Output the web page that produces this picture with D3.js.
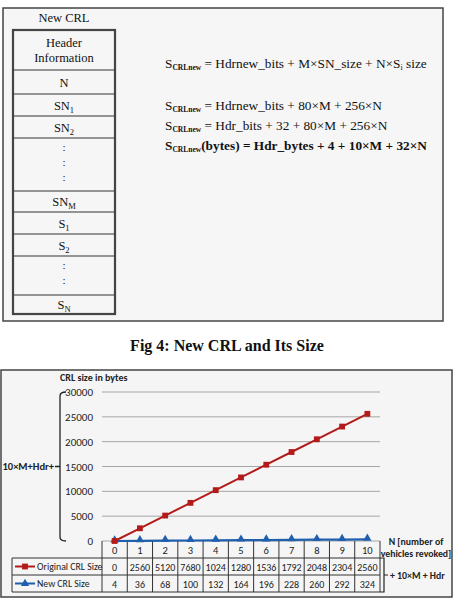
<!DOCTYPE html>
<html>
  <head>
    <meta charset="utf-8">
    <title>New CRL and Its Size</title>
    <script src="https://cdn.jsdelivr.net/npm/d3@7"></script>
    <style>
      body { margin: 0; background: #fff; }
      .serif { font-family: "Liberation Serif", "Times New Roman", serif; fill: #111; }
      .sans { font-family: Carlito, "DejaVu Sans Condensed", "Liberation Sans Narrow", "Liberation Sans", sans-serif; fill: #222; }
      .grid line { stroke: #a6a6a6; stroke-width: 1; }
    </style>
  </head>
  <body>
    <svg id="fig" width="455" height="603"></svg>
    <script>
      // ---- data ----
      const nValues = [0, 1, 2, 3, 4, 5, 6, 7, 8, 9, 10]
      const originalSize = [0, 2560, 5120, 7680, 10240, 12800, 15360, 17920, 20480, 23040, 25600]
      const newSize = [4, 36, 68, 100, 132, 164, 196, 228, 260, 292, 324]
      const yTicks = [0, 5000, 10000, 15000, 20000, 25000, 30000]
      const seriesNames = ["Original CRL Size", "New CRL Size"]

      // fields of the new CRL (label, subscript)
      const crlFields = [
        ["Header|Information", ""], ["N", ""], ["SN", "1"], ["SN", "2"], [":", ""],
        ["SN", "M"], ["S", "1"], ["S", "2"], [":", ""], ["S", "N"]
      ]
      const crlRowHeights = [40, 24, 22, 22, 53, 21, 22, 22, 39, 19]

      const svg = d3.select("#fig")

      // ---------- top panel : New CRL layout ----------
      svg.append("rect").attr("x", 3).attr("y", 8).attr("width", 440).attr("height", 313)
         .attr("fill", "#f6f6f6").attr("stroke", "#444").attr("stroke-width", 1.5)

      svg.append("text").attr("class", "serif").attr("x", 64).attr("y", 22)
         .attr("text-anchor", "middle").attr("font-size", 12.5).text("New CRL")

      const tbl = svg.append("g").attr("transform", "translate(13,30)")
      let yy = 0
      crlFields.forEach(function(f, i){
        const h = crlRowHeights[i]
        tbl.append("line").attr("x1", 0).attr("x2", 102).attr("y1", yy).attr("y2", yy)
           .attr("stroke", "#333").attr("stroke-width", 1)
        if(f[0] == ":"){
          const n = h > 45 ? 3 : 2
          for(let k = 0; k < n; k++){
            tbl.append("text").attr("class", "serif").attr("x", 51)
               .attr("y", yy + 13 + k * 15).attr("text-anchor", "middle")
               .attr("font-size", 11).attr("fill", "#555").text(":")
          }
        } else if(f[0].indexOf("|") >= 0){
          f[0].split("|").forEach(function(s, k){
            tbl.append("text").attr("class", "serif").attr("x", 51)
               .attr("y", yy + 17 + k * 15).attr("text-anchor", "middle")
               .attr("font-size", 12.5).text(s)
          })
        } else {
          const t = tbl.append("text").attr("class", "serif").attr("x", 51)
                       .attr("y", yy + h / 2 + 4.5).attr("text-anchor", "middle")
                       .attr("font-size", 12.5).text(f[0])
          if(f[1]) t.append("tspan").attr("font-size", 8.5).attr("dy", 3).text(f[1])
        }
        yy += h
      })
      tbl.append("rect").attr("x", 0).attr("y", 0).attr("width", 102).attr("height", yy)
         .attr("fill", "none").attr("stroke", "#444").attr("stroke-width", 2.2)

      // formulas
      const formulas = [
        [68, " = Hdrnew_bits + M×SN_size + N×S", "i", " size", false],
        [110, " = Hdrnew_bits + 80×M + 256×N", "", "", false],
        [130, " = Hdr_bits + 32 + 80×M + 256×N", "", "", false],
        [150, "(bytes)  = Hdr_bytes  + 4 + 10×M + 32×N", "", "", true]
      ]
      formulas.forEach(function(f){
        const t = svg.append("text").attr("class", "serif").attr("x", 165).attr("y", f[0])
                     .attr("font-size", 13.3).attr("font-weight", f[4] ? "bold" : "normal")
        t.append("tspan").text("S")
        t.append("tspan").attr("font-size", 7.5).attr("font-weight", "bold").attr("dy", 1.5).text("CRLnew")
        t.append("tspan").attr("dy", -1.5).text(f[1])
        if(f[2]){
          t.append("tspan").attr("font-size", 8).attr("dy", 2).text(f[2])
          t.append("tspan").attr("dy", -2).text(f[3])
        }
      })

      // caption
      svg.append("text").attr("class", "serif").attr("x", 227).attr("y", 351)
         .attr("text-anchor", "middle").attr("font-size", 16).attr("font-weight", "bold")
         .text("Fig 4: New CRL and Its Size")

      // ---------- chart ----------
      svg.append("rect").attr("x", 1).attr("y", 370).attr("width", 451).attr("height", 227)
         .attr("fill", "#f5f5f5").attr("stroke", "#444").attr("stroke-width", 1.5)

      const plot = {left: 102, right: 380, top: 392, bottom: 541}

      const x = d3.scaleBand().domain(nValues).range([plot.left, plot.right])
      const y = d3.scaleLinear().domain([0, 30000]).range([plot.bottom, plot.top])

      // gridlines
      svg.append("g").attr("class", "grid").selectAll("line")
         .data(yTicks).join("line")
         .attr("x1", plot.left).attr("x2", plot.right)
         .attr("y1", d => y(d)).attr("y2", d => y(d))

      // y axis labels
      const yAxis = d3.axisLeft(y).tickValues(yTicks).tickFormat(d3.format("d")).tickSize(0).tickPadding(9)
      const gy = svg.append("g").attr("transform", "translate(" + plot.left + ",0)").call(yAxis)
      gy.select(".domain").remove()
      gy.selectAll("text").attr("class", "sans").attr("font-size", 11).attr("fill", "#444")

      svg.append("text").attr("class", "sans").attr("x", 60).attr("y", 381)
         .attr("font-size", 10).attr("font-weight", "bold").text("CRL size in bytes")

      // left bracket
      svg.append("path").attr("fill", "none").attr("stroke", "#222").attr("stroke-width", 1.3)
         .attr("d", "M66," + y(30000) + " Q60," + y(30000) + " 60," + (y(30000) + 4)
                  + " L60," + (y(0) - 4) + " Q60," + y(0) + " 66," + y(0)
                  + " M60," + y(15000) + " L55," + y(15000))
      svg.append("text").attr("class", "sans").attr("x", 54).attr("y", y(15000) + 3.5)
         .attr("text-anchor", "end").attr("font-size", 10.5).attr("font-weight", "bold").text("10×M+Hdr+")

      // data table under the plot
      const rowH = 17
      const tableG = svg.append("g")
      const bounds = nValues.map(d => x(d)).concat([plot.right])
      tableG.selectAll("line.v").data(bounds).join("line").attr("class", "v")
            .attr("x1", d => d).attr("x2", d => d)
            .attr("y1", plot.bottom).attr("y2", plot.bottom + 3 * rowH)
            .attr("stroke", "#333").attr("stroke-width", 1)
      ;[1, 2, 3].forEach(function(r){
        tableG.append("line").attr("x1", 12).attr("x2", plot.right)
              .attr("y1", plot.bottom + r * rowH).attr("y2", plot.bottom + r * rowH)
              .attr("stroke", "#333").attr("stroke-width", 1)
      })
      tableG.append("line").attr("x1", 12).attr("x2", 12)
            .attr("y1", plot.bottom + rowH).attr("y2", plot.bottom + 3 * rowH)
            .attr("stroke", "#333")

      // category row
      tableG.selectAll("text.cat").data(nValues).join("text").attr("class", "sans cat")
            .attr("x", d => x(d) + x.bandwidth() / 2).attr("y", plot.bottom + 12.5)
            .attr("text-anchor", "middle").attr("font-size", 10.5).attr("fill", "#444").text(d => d)

      // value rows (cell text is clipped to four characters as in the original)
      ;[originalSize, newSize].forEach(function(vals, r){
        tableG.selectAll("text.r" + r).data(vals).join("text").attr("class", "sans r" + r)
              .attr("x", (d, i) => x(nValues[i]) + x.bandwidth() / 2)
              .attr("y", plot.bottom + (r + 1) * rowH + 12.5)
              .attr("text-anchor", "middle").attr("font-size", 10).attr("fill", "#444")
              .text(d => String(d).slice(0, 4))
      })

      const colors = ["#b31b1b", "#1f5fad"]
      const square = d3.symbol().type(d3.symbolSquare).size(34)
      const tri = d3.symbol().type(d3.symbolTriangle).size(30)

      // legend keys
      seriesNames.forEach(function(name, r){
        const cy = plot.bottom + (r + 1) * rowH + rowH / 2
        tableG.append("line").attr("x1", 15).attr("x2", 35).attr("y1", cy).attr("y2", cy)
              .attr("stroke", colors[r]).attr("stroke-width", 2)
        tableG.append("path").attr("d", r == 0 ? square() : tri())
              .attr("transform", "translate(25," + cy + ")").attr("fill", colors[r])
        tableG.append("text").attr("class", "sans").attr("x", 37).attr("y", cy + 3.5)
              .attr("font-size", 9.8).attr("fill", "#333").text(name)
      })

      // series lines
      const line = d3.line().x((d, i) => x(nValues[i]) + x.bandwidth() / 2).y(d => y(d))
      svg.append("path").datum(newSize).attr("d", line).attr("fill", "none")
         .attr("stroke", colors[1]).attr("stroke-width", 2.2)
      svg.append("path").datum(originalSize).attr("d", line).attr("fill", "none")
         .attr("stroke", colors[0]).attr("stroke-width", 2)
      svg.selectAll("path.tri").data(newSize).join("path").attr("class", "tri")
         .attr("d", tri).attr("fill", colors[1])
         .attr("transform", (d, i) => "translate(" + (x(nValues[i]) + x.bandwidth() / 2) + "," + (y(d) - 1) + ")")
      svg.selectAll("path.sq").data(originalSize).join("path").attr("class", "sq")
         .attr("d", square).attr("fill", colors[0])
         .attr("transform", (d, i) => "translate(" + (x(nValues[i]) + x.bandwidth() / 2) + "," + y(d) + ")")

      // x axis title
      svg.append("text").attr("class", "sans").attr("x", 416).attr("y", 545)
         .attr("text-anchor", "middle").attr("font-size", 9.8).attr("font-weight", "bold").text("N [number of")
      svg.append("text").attr("class", "sans").attr("x", 416).attr("y", 557)
         .attr("text-anchor", "middle").attr("font-size", 9.8).attr("font-weight", "bold").text("vehicles revoked]")

      // right bracket for the table rows
      const b0 = plot.bottom + rowH, b1 = plot.bottom + 3 * rowH, bm = (b0 + b1) / 2
      svg.append("path").attr("fill", "none").attr("stroke", "#222").attr("stroke-width", 1.2)
         .attr("d", "M380," + b0 + " L384," + b0 + " L384," + b1 + " L380," + b1
                  + " M384," + bm + " L388," + bm)
      svg.append("text").attr("class", "sans").attr("x", 390).attr("y", bm + 3.5)
         .attr("font-size", 9.8).attr("font-weight", "bold").text("+ 10×M + Hdr")
    </script>
  </body>
</html>
